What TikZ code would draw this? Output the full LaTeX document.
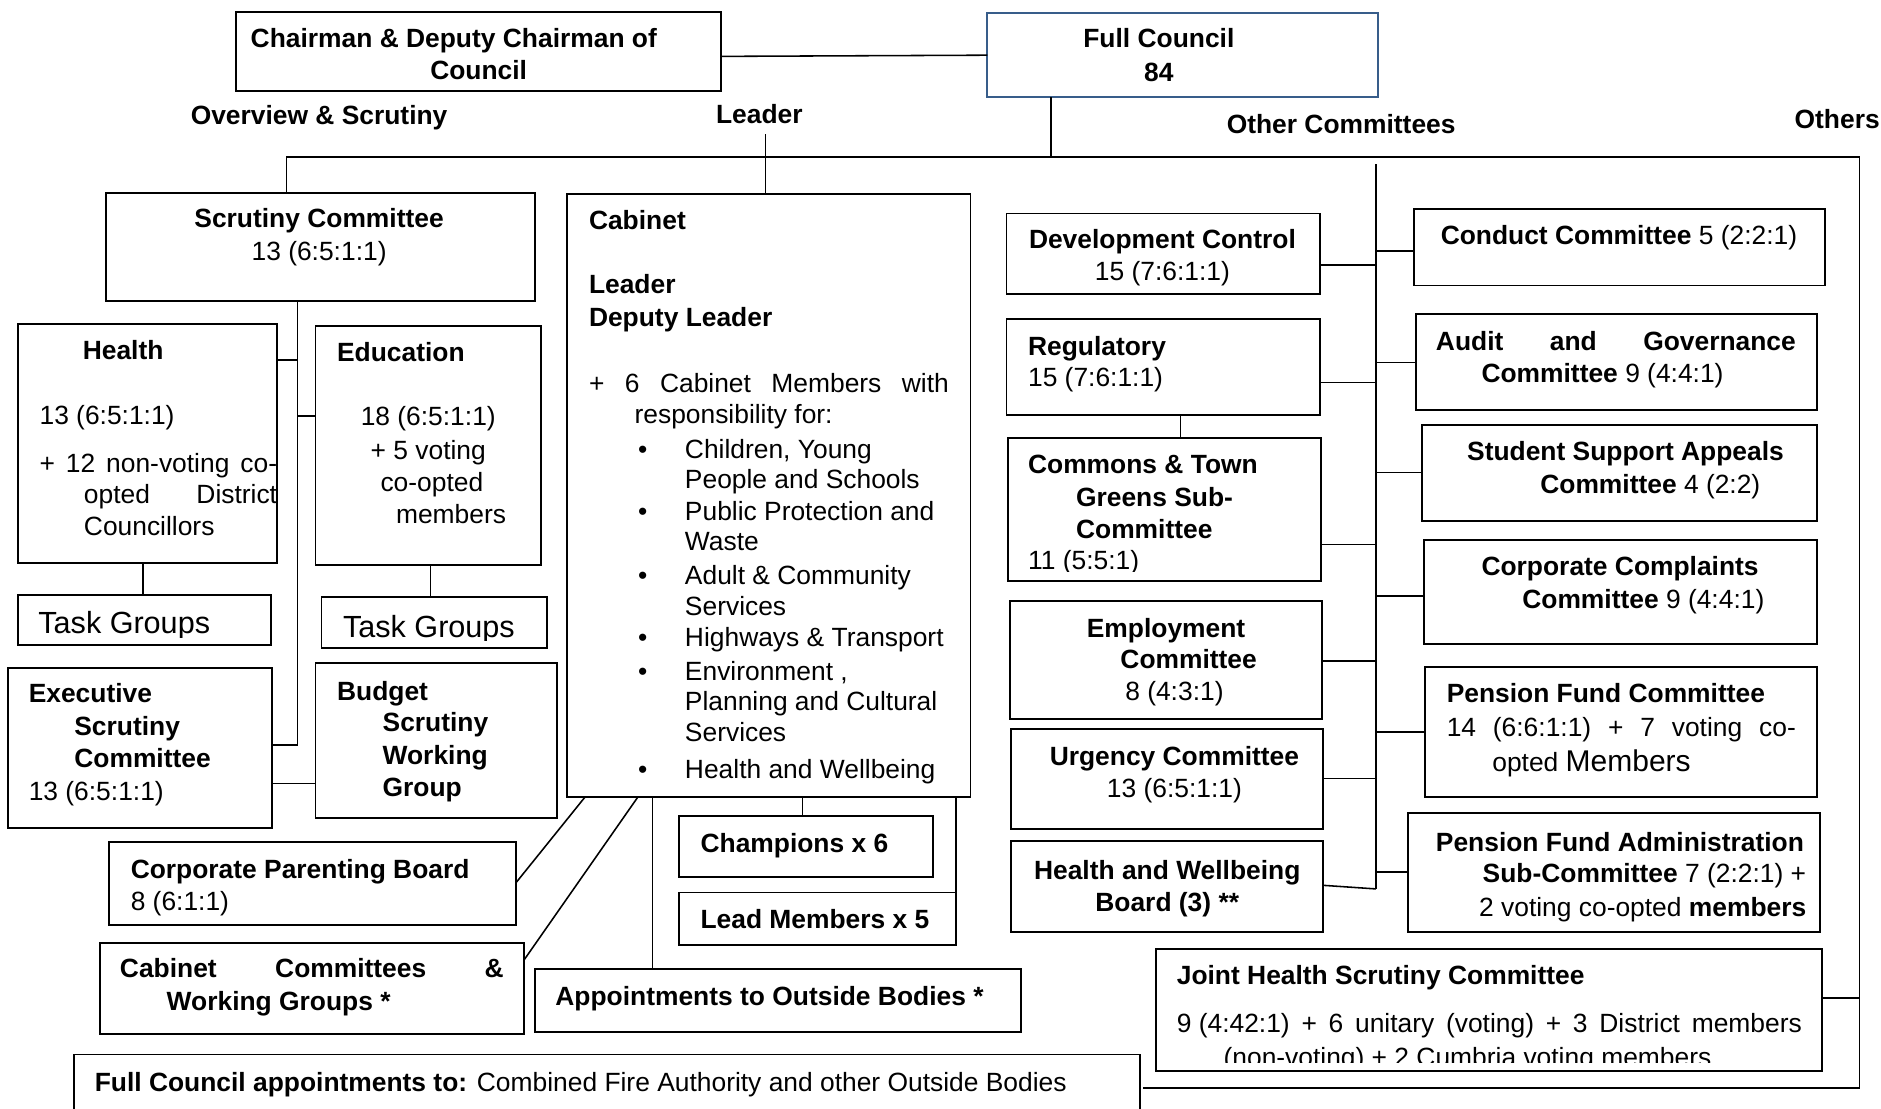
\documentclass[tikz,border=0pt]{standalone}
\usepackage{fontspec}
\setmainfont{Liberation Sans}
\definecolor{fcblue}{RGB}{56,93,138}
\newcounter{tcnt}
\tikzset{
 box/.style={draw, line width=1.6pt, rectangle, inner sep=0pt, outer sep=0pt, anchor=north west},
 conn/.style={line width=1.3pt},
 tl/.style={anchor=base west, inner sep=0pt, outer sep=0pt, font=\fontsize{22}{26}\selectfont},
 tcen/.style={anchor=base, inner sep=0pt, outer sep=0pt, font=\fontsize{22}{26}\selectfont},
}
\newcommand\mybox[6][]{\node[box,#1, minimum width={#5-#3}, minimum height={#6-#4}] (#2) at (#3,#4) {};}
\newcommand\txl[3]{\stepcounter{tcnt}\node[tl] (t\arabic{tcnt}) at (#1,#2) {#3};}
\newcommand\txc[3]{\stepcounter{tcnt}\node[tcen] (t\arabic{tcnt}) at (#1,#2) {#3};}
\newcommand\jst[2]{\hbox to #1pt{#2}}
\begin{document}
\begin{tikzpicture}[x=1pt,y=-1pt]
\useasboundingbox (0,0) rectangle (1568,924);
\fill[white] (0,0) rectangle (1568,924);
% boxes
\mybox{chair}{197}{10}{601}{76}
\mybox[draw=fcblue]{fc}{823}{11}{1149}{81}
\mybox{scrut}{88}{161}{446}{251}
\mybox{health}{15}{270}{231}{469}
\mybox{edu}{263}{272}{451}{471}
\mybox{tg1}{15}{496}{226}{538}
\mybox{tg2}{268}{498}{456}{540}
\mybox{exec}{7}{557}{227}{690}
\mybox{budget}{263}{553}{464}{682}
\mybox{cab}{473}{162}{809}{664}
\mybox{cpb}{91}{702}{430}{771}
\mybox{ccw}{83}{786}{437}{862}
\mybox{aob}{446}{808}{851}{860}
\mybox{champ}{566}{680}{778}{731}
\mybox{lead}{566}{744}{797}{788}
\mybox{dc}{839}{178}{1100}{245}
\mybox{reg}{839}{266}{1100}{346}
\mybox{commons}{840}{365}{1101}{484}
\mybox{emp}{842}{501}{1102}{599}
\mybox{urg}{843}{608}{1103}{691}
\mybox{hwb}{843}{701}{1103}{777}
\mybox{conduct}{1179}{174}{1521}{238}
\mybox{audit}{1180}{262}{1515}{342}
\mybox{ssa}{1185}{354}{1515}{434}
\mybox{ccomp}{1187}{450}{1515}{537}
\mybox{pfc}{1188}{556}{1515}{664}
\mybox{pfa}{1174}{678}{1517}{777}
\mybox{jhs}{964}{791}{1519}{893}
\mybox{fca}{62}{879}{950}{940}
% junction coordinates
\coordinate (hl) at (239,131);
\coordinate (hr) at (1550,131);
\coordinate (hrb) at (1550,907);
\coordinate (bl) at (953,907);
\coordinate (fcj) at (876,131);
\coordinate (ldr) at (638,112);
\coordinate (vt) at (1147,137);
\coordinate (vb) at (1147,741);
\coordinate (sv) at (248,621);
% connectors
\draw[conn] (chair.east |- 0,47) -- (fc.west |- 0,46);
\draw[conn] (fc.south -| fcj) -- (fcj);
\draw[conn] (scrut.north -| hl) -- (hl) -- (hr) -- (hrb) -- (bl);
\draw[conn] (ldr) -- (cab.north -| ldr);
\draw[conn] (vt) -- (vb);
\draw[conn] (scrut.south -| sv) -- (sv) -- (exec.east |- sv);
\draw[conn] (health.east |- 0,300) -- (sv |- 0,300);
\draw[conn] (sv |- 0,347) -- (edu.west |- 0,347);
\draw[conn] (health.south -| 119,0) -- (tg1.north -| 119,0);
\draw[conn] (edu.south -| 359,0) -- (tg2.north -| 359,0);
\draw[conn] (exec.east |- 0,653) -- (budget.west |- 0,653);
\draw[conn] (cab.south -| 488,0) -- (cpb.east |- 0,736);
\draw[conn] (cab.south -| 532,0) -- (ccw.east |- 0,800);
\draw[conn] (cab.south -| 544,0) -- (aob.north -| 544,0);
\draw[conn] (cab.south -| 669,0) -- (champ.north -| 669,0);
\draw[conn] (cab.south -| 797,0) -- (lead.north east);
\draw[conn] (dc.east |- 0,221) -- (vt |- 0,221);
\draw[conn] (vt |- 0,209) -- (conduct.west |- 0,209);
\draw[conn] (reg.east |- 0,319) -- (vt |- 0,319);
\draw[conn] (vt |- 0,302) -- (audit.west |- 0,302);
\draw[conn] (reg.south -| 984,0) -- (commons.north -| 984,0);
\draw[conn] (commons.east |- 0,454) -- (vt |- 0,454);
\draw[conn] (vt |- 0,394) -- (ssa.west |- 0,394);
\draw[conn] (vt |- 0,497) -- (ccomp.west |- 0,497);
\draw[conn] (emp.east |- 0,551) -- (vt |- 0,551);
\draw[conn] (vt |- 0,610) -- (pfc.west |- 0,610);
\draw[conn] (urg.east |- 0,649) -- (vt |- 0,649);
\draw[conn] (hwb.east |- 0,738) -- (vb);
\draw[conn] (vt |- 0,727) -- (pfa.west |- 0,727);
\draw[conn] (jhs.east |- 0,832) -- (hrb |- 0,832);
% texts: top
\txl{209}{40}{\textbf{Chairman \& Deputy Chairman of}}
\txc{399}{66}{\textbf{Council}}
\txc{966}{40}{\textbf{Full Council}}
\txc{966}{68}{\textbf{84}}
\txc{266}{104}{\textbf{Overview \& Scrutiny}}
\txc{633}{103}{\textbf{Leader}}
\txc{1118}{111}{\textbf{Other Committees}}
\txl{1496}{107}{\textbf{Others}}
% scrutiny side
\txc{266}{190}{\textbf{Scrutiny Committee}}
\txc{266}{217}{13 (6:5:1:1)}
\txl{69}{300}{\textbf{Health}}
\txl{33}{354}{13 (6:5:1:1)}
\txl{33}{394}{\jst{198}{+\hfill 12\hfill non-voting\hfill co-}}
\txl{70}{420}{\jst{161}{opted\hfill District}}
\txl{70}{446}{Councillors}
\txl{281}{301}{\textbf{Education}}
\txc{357}{355}{18 (6:5:1:1)}
\txc{357}{383}{+ 5 voting}
\txc{360}{410}{co-opted}
\txc{376}{436}{members}
\begin{scope}
\clip (15,496) rectangle (226,531);
\txl{32}{528}{\fontsize{25.5}{30}\selectfont Task Groups}
\end{scope}
\begin{scope}
\clip (268,498) rectangle (456,534);
\txl{286}{531}{\fontsize{25.5}{30}\selectfont Task Groups}
\end{scope}
\txl{24}{586}{\textbf{Executive}}
\txl{62}{613}{\textbf{Scrutiny}}
\txl{62}{640}{\textbf{Committee}}
\txl{24}{667}{13 (6:5:1:1)}
\txl{281}{584}{\textbf{Budget}}
\txl{319}{610}{\textbf{Scrutiny}}
\txl{319}{637}{\textbf{Working}}
\txl{319}{664}{\textbf{Group}}
% cabinet
\txl{491}{191}{\textbf{Cabinet}}
\txl{491}{245}{\textbf{Leader}}
\txl{491}{272}{\textbf{Deputy Leader}}
\txl{491}{327}{\jst{300}{+\hfill 6\hfill Cabinet\hfill Members\hfill with}}
\txl{529}{353}{responsibility for:}
\txl{532}{382}{•}
\txl{571}{382}{Children, Young}
\txl{571}{407}{People and Schools}
\txl{532}{434}{•}
\txl{571}{434}{Public Protection and}
\txl{571}{459}{Waste}
\txl{532}{487}{•}
\txl{571}{487}{Adult \& Community}
\txl{571}{513}{Services}
\txl{532}{539}{•}
\txl{571}{539}{Highways \& Transport}
\txl{532}{567}{•}
\txl{571}{567}{Environment ,}
\txl{571}{592}{Planning and Cultural}
\txl{571}{618}{Services}
\txl{532}{649}{•}
\txl{571}{649}{Health and Wellbeing}
% cabinet children
\txl{109}{732}{\textbf{Corporate Parenting Board}}
\txl{109}{759}{8 (6:1:1)}
\txl{100}{815}{\jst{320}{\bfseries Cabinet\hfill Committees\hfill \&}}
\txl{139}{842}{\textbf{Working Groups *}}
\txl{463}{838}{\textbf{Appointments to Outside Bodies *}}
\txl{584}{711}{\textbf{Champions x 6}}
\txl{584}{774}{\textbf{Lead Members x 5}}
% other committees left column
\txc{969}{207}{\textbf{Development Control}}
\txc{969}{234}{15 (7:6:1:1)}
\txl{857}{296}{\textbf{Regulatory}}
\txl{857}{322}{15 (7:6:1:1)}
\txl{857}{395}{\textbf{Commons \& Town}}
\txl{897}{422}{\textbf{Greens Sub-}}
\txl{897}{449}{\textbf{Committee}}
\begin{scope}
\clip (840,440) rectangle (1101,476);
\txl{857}{475}{11 (5:5:1)}
\end{scope}
\txc{972}{531}{\textbf{Employment}}
\txl{934}{557}{\textbf{Committee}}
\txc{979}{584}{8 (4:3:1)}
\txc{979}{638}{\textbf{Urgency Committee}}
\txc{979}{665}{13 (6:5:1:1)}
\txc{973}{733}{\textbf{Health and Wellbeing}}
\txc{973}{760}{\textbf{Board (3) **}}
% other committees right column
\txl{1201}{204}{\textbf{Conduct Committee} 5 (2:2:1)}
\txl{1197}{292}{\jst{300}{\bfseries Audit\hfill and\hfill Governance}}
\txl{1235}{319}{\textbf{Committee} 9 (4:4:1)}
\txl{1223}{384}{\textbf{Student Support Appeals}}
\txl{1284}{411}{\textbf{Committee} 4 (2:2)}
\txl{1235}{480}{\textbf{Corporate Complaints}}
\txl{1269}{507}{\textbf{Committee} 9 (4:4:1)}
\txl{1206}{586}{\textbf{Pension Fund Committee}}
\txl{1206}{614}{\jst{291}{14\hfill (6:6:1:1)\hfill +\hfill 7\hfill voting\hfill co-}}
\txl{1244}{643}{opted {\fontsize{25}{30}\selectfont Members}}
\txl{1197}{710}{\textbf{Pension Fund Administration}}
\txl{1236}{736}{\textbf{Sub-Committee} 7 (2:2:1) +}
\txl{1233}{764}{2 voting co-opted \textbf{members}}
% joint health
\txl{981}{821}{\textbf{Joint Health Scrutiny Committee}}
\txl{981}{861}{\jst{521}{9 (4:42:1)\hfill +\hfill 6\hfill unitary\hfill (voting)\hfill +\hfill 3\hfill District\hfill members}}
\begin{scope}
\clip (964,860) rectangle (1519,886);
\txl{1020}{889}{(non-voting) + 2 Cumbria voting members}
\end{scope}
% full council appointments
\txl{79}{910}{\textbf{Full Council appointments to:} Combined Fire Authority and other Outside Bodies}
\end{tikzpicture}
\end{document}
